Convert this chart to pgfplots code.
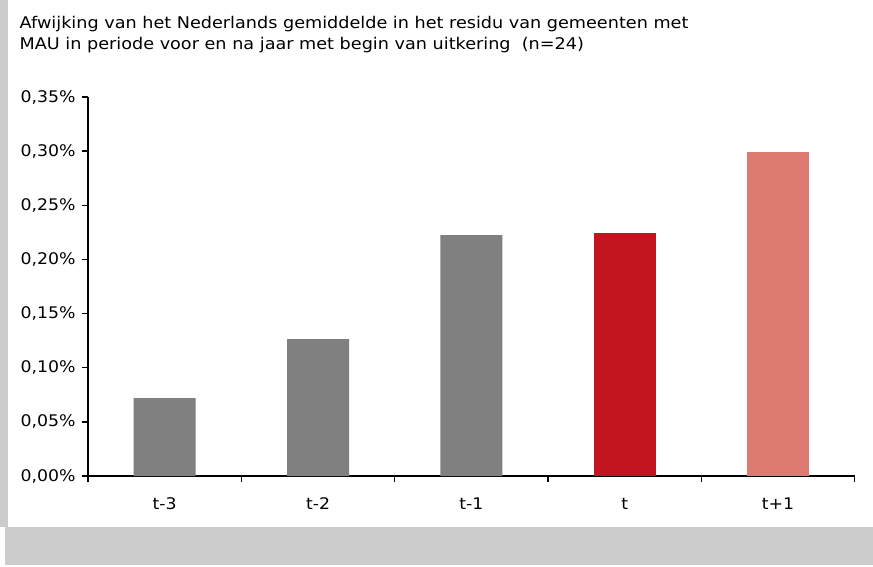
\documentclass[border=0pt]{standalone}
\usepackage{pgfplots}
\pgfplotsset{compat=1.18}
\usepackage{fontspec}
\setmainfont{DejaVu Sans}[FakeStretch=1.08]
\newfontfamily\titlefont{DejaVu Sans}[FakeStretch=1.095]
\definecolor{bgray}{HTML}{CCCCCC}
\definecolor{bargray}{HTML}{808080}
\definecolor{barred}{HTML}{C1151F}
\definecolor{barsalmon}{HTML}{DD7B70}
\begin{document}
\begin{tikzpicture}
\path[use as bounding box, fill=white] (0,0) rectangle (873pt,566pt);
\fill[bgray] (0,39pt) rectangle (8pt,566pt);
\fill[bgray] (5pt,1pt) rectangle (873pt,39pt);
\node[anchor=base west, align=left, inner sep=0pt, font=\titlefont\fontsize{16.1}{21.7}\selectfont] at (19.5pt,516pt)
 {Afwijking van het Nederlands gemiddelde in het residu van gemeenten met\\MAU in periode voor en na jaar met begin van uitkering\ \ (n=24)};
\begin{axis}[
  at={(88pt,90pt)}, anchor=south west,
  scale only axis, width=766.7pt, height=379pt,
  xmin=0.5, xmax=5.5, ymin=0, ymax=0.35,
  axis lines*=left,
  axis line style={line width=1.8pt, black},
  ybar, bar width=62pt,
  ytick={0,0.05,0.1,0.15,0.2,0.25,0.3,0.35},
  yticklabel={\pgfmathprintnumber[fixed,fixed zerofill,precision=2,use comma]{\tick}\%},
  /pgf/number format/assume math mode=true,
  ytick style={line width=1.5pt, black},
  y tick label style={font=\fontsize{16}{18}\selectfont, xshift=-3pt},
  tick align=outside, major tick length=6pt,
  xtick={1,2,3,4,5},
  xticklabels={t-3,t-2,t-1,t,t+1},
  x tick style={draw=none},
  x tick label style={font=\fontsize{16}{18}\selectfont, text height=11.5pt, text depth=0pt, yshift=-12pt},
  extra x ticks={0.5,1.5,2.5,3.5,4.5,5.5},
  extra x tick labels={},
  extra x tick style={x tick style={draw=black, line width=1.5pt}},
  clip=false,
]
\addplot[fill=bargray, draw=none, bar shift=0pt] coordinates {(1,0.0720) (2,0.1265) (3,0.2225)};
\addplot[fill=barred, draw=none, bar shift=0pt] coordinates {(4,0.2240)};
\addplot[fill=barsalmon, draw=none, bar shift=0pt] coordinates {(5,0.2990)};
\end{axis}
\end{tikzpicture}
\end{document}
